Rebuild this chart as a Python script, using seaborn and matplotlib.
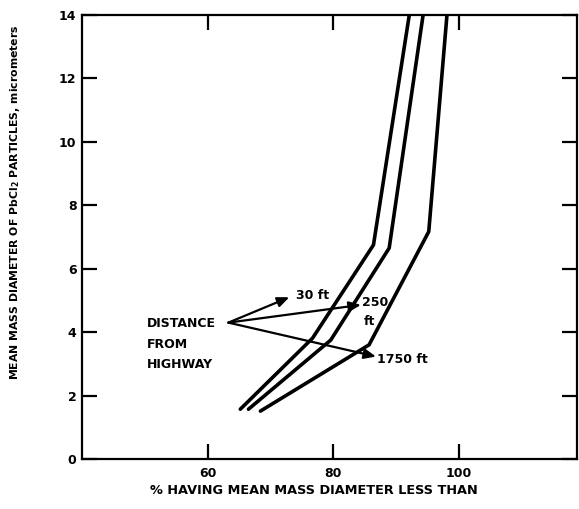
import matplotlib
matplotlib.use("Agg")
import matplotlib.pyplot as plt
import seaborn as sns
import pandas as pd

# Data (percent, diameter in micrometers)
pct_30ft = [65.2, 76.7, 86.4, 92.1]
dia_30ft = [1.57, 3.81, 6.75, 14.0]
pct_250ft = [66.5, 79.6, 88.9, 94.3]
dia_250ft = [1.57, 3.75, 6.65, 14.0]
pct_1750ft = [68.4, 85.7, 95.2, 98.1]
dia_1750ft = [1.51, 3.60, 7.17, 14.0]
series_names = ["30 ft", "250 ft", "1750 ft"]

x_ticks = [60, 80, 100]
y_ticks = [0, 2, 4, 6, 8, 10, 12, 14]

rows = []
for name, xs, ys in zip(series_names, [pct_30ft, pct_250ft, pct_1750ft],
                        [dia_30ft, dia_250ft, dia_1750ft]):
    for i, (x, y) in enumerate(zip(xs, ys)):
        rows.append({"series": name, "pct": x, "dia": y, "order": i})
df = pd.DataFrame(rows)

sns.set_style("white")
plt.rcParams["font.family"] = ["DejaVu Sans"]
plt.rcParams["font.weight"] = "bold"
plt.rcParams["text.color"] = "black"
plt.rcParams["axes.labelcolor"] = "black"
plt.rcParams["xtick.color"] = "black"
plt.rcParams["ytick.color"] = "black"
plt.rcParams["mathtext.fontset"] = "custom"
plt.rcParams["mathtext.rm"] = "DejaVu Sans:bold"
plt.rcParams["mathtext.default"] = "rm"

fig = plt.figure(figsize=(5.79, 5.09), dpi=100)
ax = fig.add_axes([82 / 579, 1 - 459 / 509, 495 / 579, 444 / 509])

sns.lineplot(data=df, x="pct", y="dia", hue="series", units="series",
             estimator=None, sort=False, palette=["black"] * 3,
             linewidth=2.6, legend=False, ax=ax)

ax.set_xlim(40, 118.8)
ax.set_ylim(0, 14)
ax.set_xticks(x_ticks)
ax.set_yticks(y_ticks)
ax.set_xticklabels([str(v) for v in x_ticks], fontsize=9, fontweight="bold",
                   color="black")
ax.set_yticklabels([str(v) for v in y_ticks], fontsize=9, fontweight="bold",
                   color="black")
ax.tick_params(axis="both", direction="in", length=11, width=1.6,
               top=True, right=True, bottom=True, left=True, color="black",
               labelcolor="black")
ax.tick_params(axis="y", pad=4)
ax.tick_params(axis="x", pad=6)
for s in ax.spines.values():
    s.set_visible(True)
    s.set_color("black")
    s.set_linewidth(1.6)

ax.set_xlabel("% HAVING MEAN MASS DIAMETER LESS THAN", fontsize=9.3,
              fontweight="bold", color="black")
ax.xaxis.set_label_coords(0.468, -0.056)
ax.set_ylabel(r"MEAN MASS DIAMETER OF PbCl$_2$ PARTICLES, micrometers",
              fontsize=7.8, fontweight="bold", color="black")
ax.yaxis.set_label_coords(-0.121, 0.578)

# annotation
txt_kw = dict(fontsize=9, fontweight="bold", va="center", color="black")
ax.text(50.35, 4.26, "DISTANCE", ha="left", **txt_kw)
ax.text(50.35, 3.62, "FROM", ha="left", **txt_kw)
ax.text(50.35, 2.98, "HIGHWAY", ha="left", **txt_kw)
origin = (63.3, 4.30)
arrow_kw = dict(arrowstyle="-|>,head_length=0.7,head_width=0.3",
                color="black", lw=1.6, shrinkA=0, shrinkB=0)
ax.annotate("", xy=(73.0, 5.10), xytext=origin, arrowprops=arrow_kw)
ax.annotate("", xy=(84.4, 4.86), xytext=origin, arrowprops=arrow_kw)
ax.annotate("", xy=(86.8, 3.23), xytext=origin, arrowprops=arrow_kw)
ax.text(74.0, 5.17, "30 ft", ha="left", **txt_kw)
ax.text(84.5, 4.92, "250", ha="left", **txt_kw)
ax.text(85.7, 4.32, "ft", ha="center", **txt_kw)
ax.text(87.0, 3.15, "1750 ft", ha="left", **txt_kw)

fig.savefig("out.png", dpi=100)
